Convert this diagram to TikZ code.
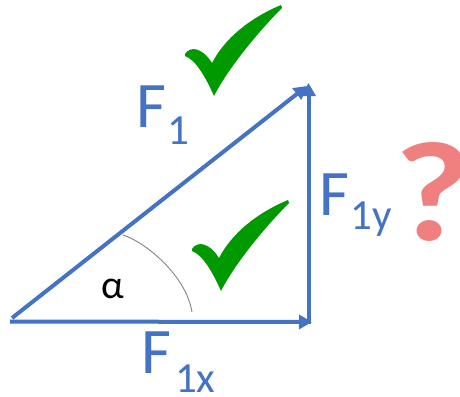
\documentclass[tikz,border=0pt]{standalone}
\usepackage{fontspec}
\setmainfont{Carlito}
\usetikzlibrary{arrows.meta}
\definecolor{vecblue}{RGB}{68,114,196}
\definecolor{checkgreen}{RGB}{0,153,0}
\definecolor{qcolor}{RGB}{240,128,128}
\definecolor{arcgray}{RGB}{130,130,130}
\tikzset{
  vector/.style={draw=vecblue, line width=4pt, -{Triangle[length=13pt,width=14pt]}},
  flabel/.style={text=vecblue, inner sep=0pt, anchor=base west, font=\fontsize{65}{65}\selectfont},
  checkmark/.pic={
    \fill[checkgreen] (-28,-42) .. controls (-23,-50) and (-11,-49) .. (-1,-33)
      .. controls (12,-58) and (37,-78) .. (68,-91) -- (69,-88)
      .. controls (49,-68) and (17,-31) .. (1,0)
      .. controls (-7,-18) and (-17,-36) .. (-28,-40) -- cycle;
  }
}
\newcommand{\subtxt}[2]{\raisebox{-#1pt}{\fontsize{43}{43}\selectfont #2}}
\begin{document}
\begin{tikzpicture}[x=1pt,y=-1pt]
\useasboundingbox (0,0) rectangle (460,396);
\coordinate (O) at (10,321.5);
\coordinate (Xend) at (312,322);
\coordinate (Ybase) at (308.5,324);
\coordinate (Top) at (308.5,83);
\coordinate (Dstart) at (12,318);
\coordinate (Dend) at (307,86);
% vectors
\draw[vector] (O) -- (Xend);
\draw[vector] (Ybase) -- (Top);
\draw[vector] (Dstart) -- (Dend);
% angle arc
\draw[arcgray, line width=0.9pt] (123,235) .. controls (145,242) and (186,275) .. (192,312);
\node[inner sep=0pt, anchor=base, font=\fontsize{40}{40}\selectfont, text=black] (alpha) at (113,298) {α};
% labels
\node[flabel] (F1) at (136,127) {F\kern1.5pt\subtxt{17}{1}};
\node[flabel] (F1y) at (319,215) {F\kern1.5pt\subtxt{14}{1y}};
\node[flabel] (F1x) at (141,373) {F\kern4pt\subtxt{19}{1x}};
% question mark
\node[inner sep=0pt, anchor=base, text=qcolor, font=\bfseries\fontsize{142}{142}\selectfont] (q) at (433,240) {\scalebox{1.18}[1]{?}};
% check marks
\pic at (213,96) {checkmark};
\pic at (220,291) {checkmark};
\end{tikzpicture}
\end{document}
